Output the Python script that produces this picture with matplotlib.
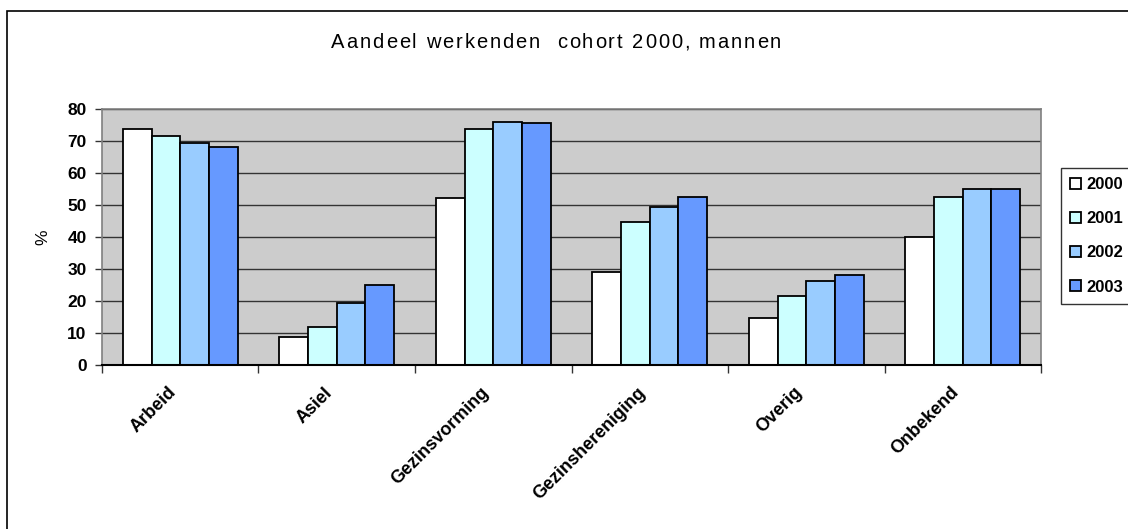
import numpy as np
import matplotlib
matplotlib.use("Agg")
import matplotlib.pyplot as plt
from matplotlib.patches import Rectangle

# --- data ---
categories = ['Arbeid', 'Asiel', 'Gezinsvorming', 'Gezinshereniging', 'Overig', 'Onbekend']
years = ['2000', '2001', '2002', '2003']
v2000 = [73.6, 8.6, 52.1, 29.1, 14.8, 40.1]
v2001 = [71.4, 12.0, 73.6, 44.6, 21.7, 52.6]
v2002 = [69.3, 19.5, 76.0, 49.3, 26.2, 54.9]
v2003 = [68.1, 25.0, 75.5, 52.6, 28.1, 54.9]
series = [v2000, v2001, v2002, v2003]
colors = ['#FFFFFF', '#CCFFFF', '#99CCFF', '#6699FF']
title = 'Aandeel werkenden  cohort 2000, mannen'

plt.rcParams['font.family'] = ['Liberation Sans', 'DejaVu Sans']

fig = plt.figure(figsize=(11.28, 5.29), dpi=100)
ax = fig.add_axes([0.0904, 0.310, 0.8325, 0.484])

x = np.arange(len(categories))
w = 0.183
for i, vals in enumerate(series):
    ax.bar(x + (i - 1.5) * w, vals, width=w, color=colors[i],
           edgecolor='black', linewidth=1.3, label=years[i], zorder=3)

# axes styling (Excel look)
ax.set_facecolor('#CCCCCC')
ax.set_xlim(-0.5, len(categories) - 0.5)
ax.set_ylim(0, 80)
ax.set_yticks(range(0, 81, 10))
ax.yaxis.grid(True, color='#333333', linewidth=1.0, zorder=1)
ax.set_axisbelow(True)
for s in ['top', 'right', 'left']:
    ax.spines[s].set_color('#808080')
    ax.spines[s].set_linewidth(1.2)
ax.spines['bottom'].set_color('black')
ax.spines['bottom'].set_linewidth(1.5)
ax.spines['bottom'].set_zorder(4)

ax.set_xticks(np.arange(-0.5, len(categories), 1.0))
ax.set_xticklabels([])
ax.tick_params(axis='x', direction='out', length=6, width=1, color='#333333')
ax.tick_params(axis='y', direction='out', length=5, width=1, color='#333333',
               labelsize=12.5, pad=6)
for lab in ax.get_yticklabels():
    lab.set_fontweight('bold')

for i, c in enumerate(categories):
    ax.annotate(c, xy=(i, 0), xycoords=('data', 'axes fraction'),
                xytext=(-5, -18), textcoords='offset points',
                rotation=45, rotation_mode='anchor', ha='right', va='center',
                fontsize=13, fontweight='bold')

ax.set_ylabel('%', fontsize=12.5, labelpad=12)

# title with a little letter spacing, like the original
renderer = fig.canvas.get_renderer()
tsize = 14.5
def text_width(s):
    t = fig.text(0, 0, s + '|', fontsize=tsize)
    bar = fig.text(0, 0, '|', fontsize=tsize)
    wd = t.get_window_extent(renderer).width - bar.get_window_extent(renderer).width
    t.remove()
    bar.remove()
    return wd

track = 1.9
total = text_width(title) + track * (len(title) - 1)
x0 = 556 - total / 2
for k, ch in enumerate(title):
    if ch == ' ':
        continue
    px = x0 + text_width(title[:k]) + track * k
    fig.text(px / 1128, 1 - 42 / 529, ch, ha='left', va='center', fontsize=tsize)

leg = fig.legend(loc='upper left', bbox_to_anchor=(1061 / 1128, 1 - 168 / 529),
                 frameon=True, fancybox=False, edgecolor='black',
                 prop={'weight': 'bold', 'size': 12},
                 handlelength=0.65, handleheight=0.65, handletextpad=0.3,
                 labelspacing=1.15, borderpad=0.55, borderaxespad=0)
leg.get_frame().set_linewidth(1.0)

# outer chart border (right and bottom fall outside the image)
fig.patches.append(Rectangle((6.5 / 1128, -0.2), 1.5, 1 - 11 / 529 + 0.2,
                             transform=fig.transFigure, fill=False,
                             edgecolor='black', linewidth=1.2))

fig.savefig('out.png', dpi=100)
